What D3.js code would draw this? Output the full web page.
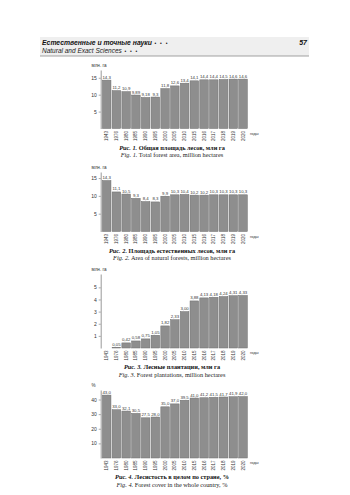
<!DOCTYPE html>
<html><head><meta charset="utf-8">
<script src="https://cdn.jsdelivr.net/npm/d3@7"></script>
<style>body{margin:0;background:#fff}svg{display:block}</style>
</head><body><svg id="c" width="350" height="495"></svg>
<script>
const years = ["1943","1976","1980","1985","1990","1995","2000","2005","2010","2015","2016","2017","2018","2019","2020"];
const totalArea = [14.3, 11.2, 10.9, 9.89, 9.18, 9.3, 11.8, 12.6, 13.4, 14.1, 14.4, 14.4, 14.5, 14.6, 14.6];
const naturalArea = [14.3, 11.1, 10.5, 9.3, 8.4, 8.3, 9.9, 10.3, 10.4, 10.2, 10.2, 10.3, 10.3, 10.3, 10.3];
const plantations = [0, 0.05, 0.42, 0.58, 0.75, 1.05, 1.82, 2.33, 3.00, 3.88, 4.13, 4.18, 4.24, 4.31, 4.33];
const forestCover = [43.0, 33.0, 32.1, 30.5, 27.5, 28.0, 35.0, 37.0, 39.5, 41.0, 41.2, 41.5, 41.7, 41.9, 42.0];
const ticksArea = [5, 10, 15];
const ticksPlant = [1, 2, 3, 4, 5];
const ticksCover = [10, 20, 30, 40];

const svg = d3.select("#c");
const SANS = "'Liberation Sans', Arial, sans-serif";
const SERIF = "'Liberation Serif', 'Times New Roman', serif";

// header
svg.append("rect").attr("x", 40).attr("y", 37).attr("width", 269).attr("height", 19).attr("fill", "#efefef");
svg.append("line").attr("x1", 40).attr("x2", 309).attr("y1", 56).attr("y2", 56).attr("stroke", "#8a8a8a").attr("stroke-width", 0.8);
const h1 = svg.append("text").attr("x", 42).attr("y", 44.5).attr("font-family", SANS).attr("font-size", 6.8).attr("fill", "#111");
h1.append("tspan").attr("font-weight", "bold").attr("font-style", "italic").text("Естественные и точные науки");
h1.append("tspan").attr("font-size", 5).attr("letter-spacing", 1.2).text(" • • •");
const h2 = svg.append("text").attr("x", 42).attr("y", 53).attr("font-family", SANS).attr("font-size", 6.5).attr("fill", "#222");
h2.append("tspan").attr("font-style", "italic").text("Natural and Exact Sciences");
h2.append("tspan").attr("font-size", 5).attr("letter-spacing", 1.2).text(" • • •");
svg.append("text").attr("x", 307).attr("y", 45).attr("text-anchor", "end").attr("font-family", SANS)
  .attr("font-size", 7).attr("font-weight", "bold").attr("font-style", "italic").attr("fill", "#111").text("57");

const axisX = 100.7;
const x = d3.scaleBand().domain(years).range([101.8, 247.9]).paddingInner(0.12).paddingOuter(0.06);

function drawChart(o) {
  const y = d3.scaleLinear().domain([0, o.max]).range([o.base, o.top]);
  const g = svg.append("g");
  g.append("text").attr("x", 91.5).attr("y", o.top - 3).attr("font-family", SANS).attr("font-size", 4.6).attr("fill", "#333").text(o.unit);
  const ax = g.append("g").attr("transform", `translate(${axisX},0)`)
    .call(d3.axisLeft(y).tickValues(o.ticks).tickSize(2).tickSizeOuter(0).tickFormat(d => d));
  ax.select(".domain").attr("stroke", "#555").attr("stroke-width", 0.6);
  ax.selectAll(".tick line").attr("stroke", "#555").attr("stroke-width", 0.5);
  ax.selectAll(".tick text").attr("font-family", SANS).attr("font-size", 5).attr("fill", "#333").attr("x", -4);
  const data = o.values.map((v, i) => ({v, k: years[i]})).filter(d => d.v > 0);
  g.selectAll("rect.bar").data(data).join("rect")
    .attr("class", "bar")
    .attr("x", d => x(d.k)).attr("width", x.bandwidth())
    .attr("y", d => y(d.v)).attr("height", d => y(0) - y(d.v))
    .attr("fill", "#8e8e8e").attr("stroke", "#6c6c6c").attr("stroke-width", 0.5);
  g.selectAll("text.val").data(data).join("text")
    .attr("class", "val")
    .attr("x", d => x(d.k) + x.bandwidth() / 2).attr("y", d => y(d.v) - 1.5)
    .attr("text-anchor", "middle").attr("font-family", SANS).attr("font-size", 4.3).attr("fill", "#333")
    .text(d => o.fmt(d.v));
  const bx = g.append("g").attr("transform", `translate(0,${o.base})`)
    .call(d3.axisBottom(x).tickSize(0).tickSizeOuter(0));
  bx.select(".domain").remove();
  bx.selectAll(".tick text").attr("transform", "rotate(-90)").attr("x", -2.5).attr("y", 0).attr("dy", "0.35em")
    .style("text-anchor", "end").attr("font-family", SANS).attr("font-size", 4.5).attr("fill", "#333");
  g.append("text").attr("x", 250).attr("y", o.base + 6).attr("font-family", SANS).attr("font-size", 4).attr("fill", "#333").text("годы");
  const c1 = g.append("text").attr("x", 172).attr("y", o.base + 21).attr("text-anchor", "middle")
    .attr("font-family", SERIF).attr("font-size", 6.3).attr("font-weight", "bold").attr("fill", "#111");
  c1.append("tspan").attr("font-style", "italic").text(o.capRuA);
  c1.append("tspan").text(o.capRuB);
  const c2 = g.append("text").attr("x", 172).attr("y", o.base + 28.5).attr("text-anchor", "middle")
    .attr("font-family", SERIF).attr("font-size", 6.3).attr("fill", "#222");
  c2.append("tspan").attr("font-style", "italic").text(o.capEnA);
  c2.append("tspan").text(o.capEnB);
}

const comma = v => String(v).replace(".", ",");
drawChart({values: totalArea, ticks: ticksArea, max: 17.3, base: 128.5, top: 70, unit: "млн. га", fmt: comma,
  capRuA: "Рис. 1.", capRuB: " Общая площадь лесов, млн га", capEnA: "Fig. 1.", capEnB: " Total forest area, million hectares"});
drawChart({values: naturalArea, ticks: ticksArea, max: 16.7, base: 231.5, top: 172, unit: "млн. га", fmt: comma,
  capRuA: "Рис. 2.", capRuB: " Площадь естественных лесов, млн га", capEnA: "Fig. 2.", capEnB: " Area of natural forests, million hectares"});
drawChart({values: plantations, ticks: ticksPlant, max: 6.1, base: 348, top: 274, unit: "млн. га", fmt: v => v.toFixed(2).replace(".", ","),
  capRuA: "Рис. 3.", capRuB: " Лесные плантации, млн га", capEnA: "Fig. 3.", capEnB: " Forest plantations, million hectares"});
drawChart({values: forestCover, ticks: ticksCover, max: 46.5, base: 458, top: 390, unit: "%", fmt: v => v.toFixed(1).replace(".", ","),
  capRuA: "Рис. 4.", capRuB: " Лесистость в целом по стране, %", capEnA: "Fig. 4.", capEnB: " Forest cover in the whole country, %"});
</script>
</body></html>
